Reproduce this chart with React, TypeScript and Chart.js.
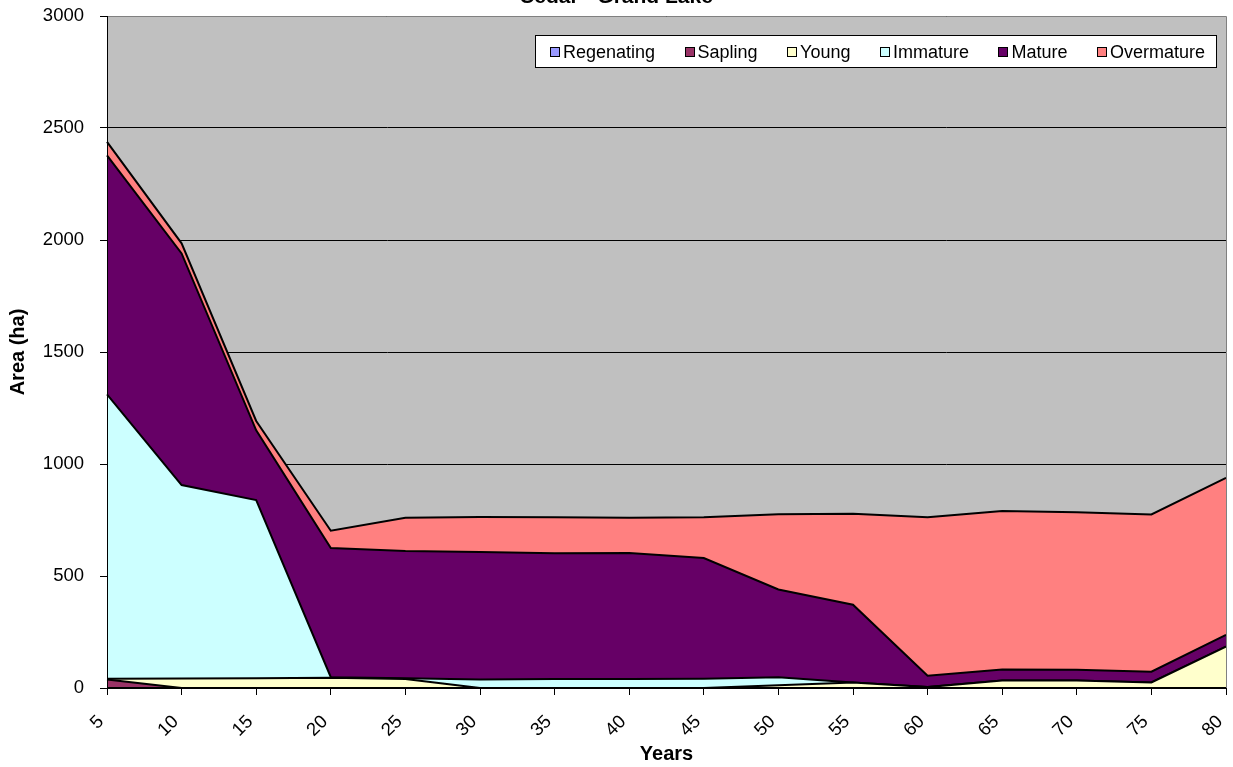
import React, { useEffect, useRef } from 'react';
import { Chart, registerables } from 'chart.js';

Chart.register(...registerables);

const years = ['5', '10', '15', '20', '25', '30', '35', '40', '45', '50', '55', '60', '65', '70', '75', '80'];
const regenerating = [0, 0, 0, 0, 0, 0, 0, 0, 0, 0, 0, 0, 0, 0, 0, 0];
const sapling = [38, 0, 0, 0, 0, 0, 0, 0, 0, 0, 0, 0, 0, 0, 0, 0];
const young = [3, 42, 44, 46, 40, 0, 0, 0, 0, 12, 25, 4, 34, 34, 25, 185];
const immature = [1270, 864, 795, 2, 3, 38, 40, 40, 41, 36, 0, 0, 0, 0, 0, 0];
const mature = [1067, 1034, 311, 577, 569, 569, 562, 563, 539, 392, 347, 51, 49, 48, 48, 52];
const overmature = [60, 45, 42, 77, 148, 156, 160, 157, 182, 336, 406, 707, 707, 703, 702, 701];

const seriesNames = ['Regenating', 'Sapling', 'Young', 'Immature', 'Mature', 'Overmature'];
const seriesColors = ['#9999FF', '#993366', '#FFFFCC', '#CCFFFF', '#660066', '#FF8080'];
const yTicks = [0, 500, 1000, 1500, 2000, 2500, 3000];
const chartTitle = 'Cedar - Grand Lake';
const FONT = "'Liberation Sans', Arial, Helvetica, sans-serif";

const plotPlugin = {
  id: 'plotDecor',
  beforeDraw(chart: any) {
    const { ctx, chartArea: a } = chart;
    ctx.save();
    ctx.fillStyle = '#FFFFFF';
    ctx.fillRect(0, 0, chart.width, chart.height);
    ctx.fillStyle = '#C0C0C0';
    ctx.fillRect(a.left, a.top, a.right - a.left, a.bottom - a.top);
    ctx.restore();
  },
  afterDatasetsDraw(chart: any) {
    const { ctx, chartArea: a } = chart;
    ctx.save();
    ctx.lineWidth = 1;
    ctx.strokeStyle = '#808080';
    ctx.beginPath();
    ctx.moveTo(a.left, Math.floor(a.top) + 0.5);
    ctx.lineTo(Math.floor(a.right) + 0.5, Math.floor(a.top) + 0.5);
    ctx.lineTo(Math.floor(a.right) + 0.5, a.bottom);
    ctx.stroke();
    ctx.strokeStyle = '#000000';
    ctx.beginPath();
    ctx.moveTo(Math.floor(a.left) + 0.5, a.top);
    ctx.lineTo(Math.floor(a.left) + 0.5, Math.floor(a.bottom) + 0.5);
    ctx.lineTo(a.right, Math.floor(a.bottom) + 0.5);
    ctx.stroke();
    ctx.restore();
  },
  afterDraw(chart: any) {
    const { ctx } = chart;
    ctx.save();
    // title (partly above the canvas, as in the reference)
    ctx.fillStyle = '#000';
    ctx.font = `bold 21px ${FONT}`;
    ctx.textAlign = 'center';
    ctx.textBaseline = 'alphabetic';
    ctx.fillText(chartTitle, 616, 3);

    // legend box
    const boxL = 535, boxT = 35, boxR = 1216, boxB = 67;
    ctx.fillStyle = '#FFFFFF';
    ctx.fillRect(boxL, boxT, boxR - boxL, boxB - boxT);
    ctx.strokeStyle = '#000';
    ctx.lineWidth = 1;
    ctx.strokeRect(boxL + 0.5, boxT + 0.5, boxR - boxL, boxB - boxT);

    ctx.font = `18px ${FONT}`;
    ctx.textAlign = 'left';
    ctx.textBaseline = 'middle';
    const startX = 550, endX = 1205, sq = 10, sqGap = 3;
    const widths = seriesNames.map((n) => ctx.measureText(n).width);
    const content = widths.reduce((s, w) => s + w + sq + sqGap, 0);
    const gap = (endX - startX - content) / (seriesNames.length - 1);
    let x = startX;
    const cy = 52;
    seriesNames.forEach((name, i) => {
      ctx.fillStyle = seriesColors[i];
      ctx.fillRect(Math.round(x), cy - 5, sq, sq);
      ctx.strokeStyle = '#000';
      ctx.strokeRect(Math.round(x) + 0.5, cy - 4.5, sq - 1, sq - 1);
      ctx.fillStyle = '#000';
      ctx.fillText(name, x + sq + sqGap, cy + 1);
      x += sq + sqGap + widths[i] + gap;
    });
    ctx.restore();
  },
};

export default function App() {
  const canvasRef = useRef<HTMLCanvasElement | null>(null);

  useEffect(() => {
    if (!canvasRef.current) return;
    Chart.defaults.font.family = FONT;
    Chart.defaults.color = '#000';
    const values = [regenerating, sapling, young, immature, mature, overmature];
    const chart = new Chart(canvasRef.current, {
      type: 'line',
      data: {
        labels: years,
        datasets: values.map((d, i) => ({
          label: seriesNames[i],
          data: d,
          backgroundColor: seriesColors[i],
          borderColor: '#000000',
          borderWidth: 2,
          fill: i === 0 ? 'origin' : '-1',
          pointRadius: 0,
          tension: 0,
        })),
      },
      options: {
        responsive: false,
        animation: false,
        devicePixelRatio: 1,
        layout: { padding: { top: 16, right: 7, left: 0, bottom: 0 } },
        plugins: {
          legend: { display: false },
          title: { display: false },
          tooltip: { enabled: false },
        },
        scales: {
          x: {
            type: 'category',
            offset: false,
            grid: { display: true, drawOnChartArea: false, drawTicks: true, tickLength: 7, color: '#000' },
            border: { display: true, color: '#000' },
            ticks: {
              autoSkip: false,
              minRotation: 45,
              maxRotation: 45,
              padding: 16,
              labelOffset: -6,
              color: '#000',
              font: { size: 18.5 },
            },
            title: {
              display: true,
              text: 'Years',
              color: '#000',
              font: { size: 20, weight: 'bold' },
              padding: { top: 0, bottom: 1 },
            },
            afterFit: (s: any) => {
              s.height = 79;
              s.paddingLeft = 0;
              s.paddingRight = 0;
            },
          },
          y: {
            stacked: true,
            min: 0,
            max: 3000,
            afterBuildTicks: (s: any) => {
              s.ticks = yTicks.map((v) => ({ value: v }));
            },
            grid: { color: '#000', tickLength: 7, drawTicks: true },
            border: { display: true, color: '#000' },
            ticks: {
              padding: 16,
              color: '#000',
              font: { size: 18.5 },
              callback: (v: any) => String(v),
            },
            title: {
              display: true,
              text: 'Area (ha)',
              color: '#000',
              font: { size: 20, weight: 'bold' },
              padding: { top: 6, bottom: 0 },
            },
            afterFit: (s: any) => {
              s.width = 107;
              s.paddingTop = 0;
              s.paddingBottom = 0;
            },
          },
        },
      },
      plugins: [plotPlugin],
    } as any);
    return () => chart.destroy();
  }, []);

  return (
    <div style={{ position: 'absolute', left: 0, top: 0, width: 1233, height: 767 }}>
      <canvas ref={canvasRef} width={1233} height={767} style={{ display: 'block', width: 1233, height: 767 }} />
    </div>
  );
}
